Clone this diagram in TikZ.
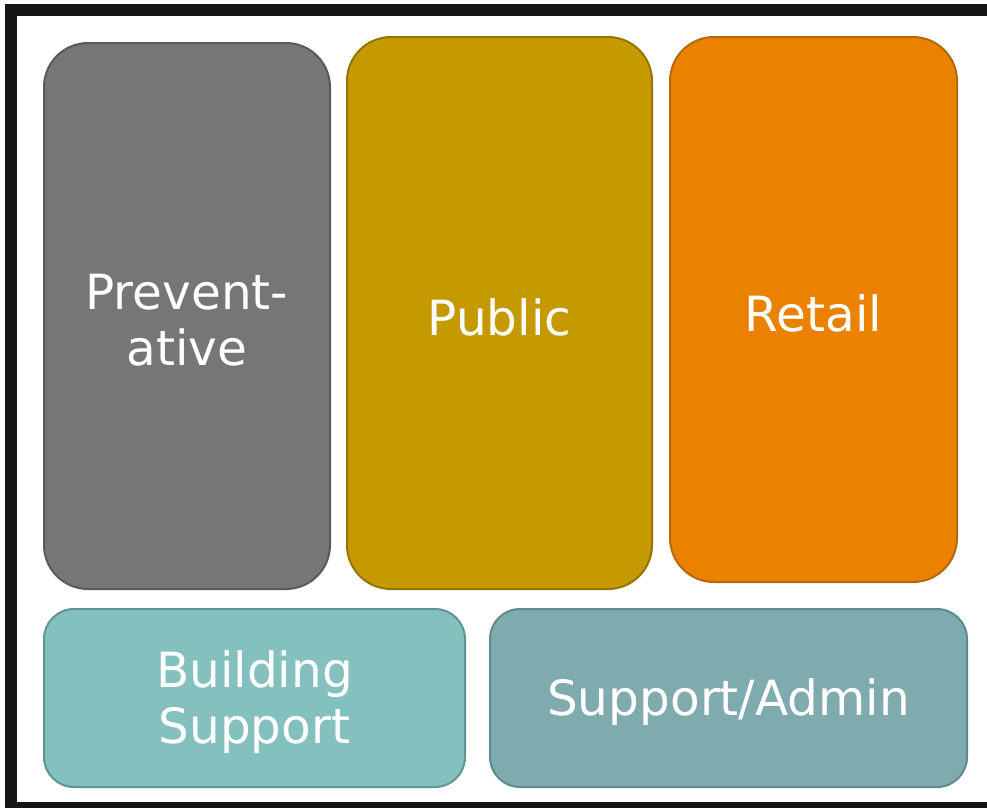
\documentclass[tikz,border=0pt]{standalone}
\usepackage{fontspec}
\setmainfont{DejaVu Sans}
\definecolor{frameblack}{HTML}{151515}
\definecolor{grayfill}{HTML}{757678}
\definecolor{graydraw}{HTML}{595A5C}
\definecolor{goldfill}{HTML}{C59900}
\definecolor{golddraw}{HTML}{957400}
\definecolor{orangefill}{HTML}{EA8200}
\definecolor{orangedraw}{HTML}{B5680C}
\definecolor{tealfill}{HTML}{84C0BE}
\definecolor{tealdraw}{HTML}{5F9593}
\definecolor{slatefill}{HTML}{7FABAF}
\definecolor{slatedraw}{HTML}{5E8B8E}
\tikzset{
  box/.style={rectangle, line width=2pt, inner sep=0pt},
  tallbox/.style={box, rounded corners=44pt},
  widebox/.style={box, rounded corners=30pt},
  label text/.style={text=white, align=center, inner sep=0pt,
    font=\fontsize{48.5}{56.5}\selectfont, yshift=-4pt},
}
\begin{document}
\begin{tikzpicture}[x=1pt,y=-1pt]
  \useasboundingbox (0,0) rectangle (987,807);
  \clip (0,0) rectangle (987,807);
  \fill[white] (0,0) rectangle (987,807);
  \draw[frameblack, line width=12pt] (11,10) rectangle (1000,808);
  \node[tallbox, fill=grayfill, draw=graydraw, minimum width=286pt, minimum height=546pt] (prev) at (187,316) {};
  \node[tallbox, fill=goldfill, draw=golddraw, minimum width=305pt, minimum height=552pt] (pub) at (499.5,313) {};
  \node[tallbox, fill=orangefill, draw=orangedraw, minimum width=287pt, minimum height=545pt] (ret) at (813.5,309.5) {};
  \node[widebox, fill=tealfill, draw=tealdraw, minimum width=421pt, minimum height=178pt] (bld) at (254.5,698) {};
  \node[widebox, fill=slatefill, draw=slatedraw, minimum width=477pt, minimum height=178pt] (adm) at (728.5,698) {};
  \node[label text] (prevtext) at (prev.center) {Prevent-\\ative};
  \node[label text] (pubtext) at (pub.center) {Public};
  \node[label text] (rettext) at (ret.center) {Retail};
  \node[label text] (bldtext) at (bld.center) {Building\\Support};
  \node[label text] (admtext) at (adm.center) {Support/Admin};
\end{tikzpicture}
\end{document}
